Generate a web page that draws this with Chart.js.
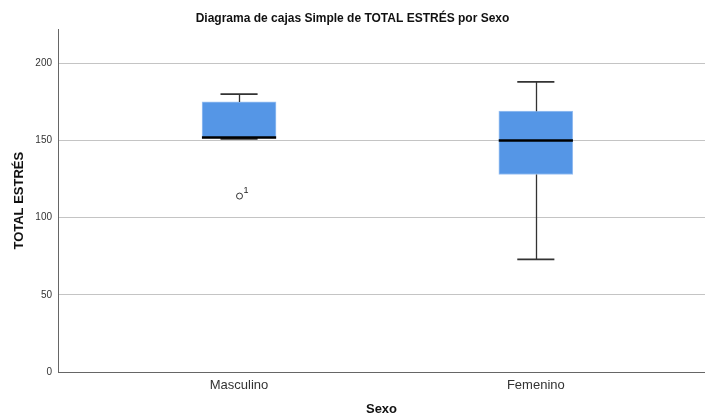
<!DOCTYPE html>
<html>
<head>
<meta charset="utf-8">
<script src="https://cdn.jsdelivr.net/npm/chart.js@4"></script>
<style>
  html, body { margin: 0; padding: 0; background: #fff; }
  #wrap { width: 705px; height: 417px; position: relative; }
</style>
</head>
<body>
<div id="wrap"><canvas id="chart1"></canvas></div>
<script>
// Data
const categories = ["Masculino", "Femenino"];
const positions = [1, 2];
const whiskerLow = [151, 73];
const boxQ1 = [151.5, 128];
const medians = [152, 150];
const boxQ3 = [175, 169];
const whiskerHigh = [180, 188];
const outlierValues = [[114], []];
const outlierLabels = [["1"], []];
const yTicks = [0, 50, 100, 150, 200];

const FONT = "'Liberation Sans', Arial, sans-serif";

// whiskers, caps, medians and outliers, drawn through the chart scales
const boxWhiskers = {
    id: "boxWhiskers",
    afterDatasetsDraw(chart) {
        const ctx = chart.ctx;
        const xs = chart.scales.x;
        const ys = chart.scales.y;
        ctx.save();
        positions.forEach(function (pos, i) {
            const cx = Math.round(xs.getPixelForValue(pos)) + 0.5;
            const capL = xs.getPixelForValue(pos - 0.0625);
            const capR = xs.getPixelForValue(pos + 0.0625);
            const boxL = xs.getPixelForValue(pos - 0.125);
            const boxR = xs.getPixelForValue(pos + 0.125);

            ctx.strokeStyle = "#333";
            ctx.lineWidth = 1.3;
            ctx.beginPath();
            ctx.moveTo(cx, ys.getPixelForValue(boxQ3[i]));
            ctx.lineTo(cx, ys.getPixelForValue(whiskerHigh[i]));
            ctx.moveTo(cx, ys.getPixelForValue(boxQ1[i]));
            ctx.lineTo(cx, ys.getPixelForValue(whiskerLow[i]));
            ctx.stroke();

            ctx.lineWidth = 1.8;
            ctx.beginPath();
            ctx.moveTo(capL, ys.getPixelForValue(whiskerHigh[i]));
            ctx.lineTo(capR, ys.getPixelForValue(whiskerHigh[i]));
            ctx.moveTo(capL, ys.getPixelForValue(whiskerLow[i]));
            ctx.lineTo(capR, ys.getPixelForValue(whiskerLow[i]));
            ctx.stroke();

            // median
            ctx.strokeStyle = "#000";
            ctx.lineWidth = 2.5;
            ctx.beginPath();
            ctx.moveTo(boxL, ys.getPixelForValue(medians[i]));
            ctx.lineTo(boxR, ys.getPixelForValue(medians[i]));
            ctx.stroke();

            // outliers
            outlierValues[i].forEach(function (v, k) {
                const py = ys.getPixelForValue(v);
                ctx.beginPath();
                ctx.arc(cx, py, 3, 0, Math.PI * 2);
                ctx.fillStyle = "#fff";
                ctx.fill();
                ctx.strokeStyle = "#333";
                ctx.lineWidth = 1;
                ctx.stroke();
                ctx.fillStyle = "#222";
                ctx.font = "9px " + FONT;
                ctx.textAlign = "left";
                ctx.textBaseline = "alphabetic";
                ctx.fillText(outlierLabels[i][k], cx + 4, py - 3);
            });
        });
        ctx.restore();
    }
};

const ctx1 = document.getElementById("chart1").getContext("2d");

new Chart(ctx1, {
    type: "bar",
    data: {
        datasets: [
            {
                data: positions.map(function (p, i) {
                    return { x: p, y: [boxQ1[i], boxQ3[i]] };
                }),
                backgroundColor: "#5596e6",
                borderColor: "#9cc2f2",
                borderWidth: 1,
                borderSkipped: false,
                barThickness: 74,
            },
        ],
    },
    options: {
        responsive: true,
        maintainAspectRatio: false,
        animation: false,
        layout: { padding: { left: 0, right: 0, top: 0, bottom: 0 } },
        plugins: {
            legend: { display: false },
            tooltip: { enabled: false },
            title: {
                display: true,
                text: "Diagrama de cajas Simple de TOTAL ESTRÉS por Sexo",
                color: "#111",
                font: { family: FONT, size: 12, weight: "bold" },
                padding: { top: 11, bottom: 4 },
            },
        },
        scales: {
            x: {
                type: "linear",
                offset: false,
                min: 0.39,
                max: 2.57,
                afterBuildTicks: function (scale) {
                    scale.ticks = positions.map(function (p) { return { value: p }; });
                },
                afterFit: function (scale) { scale.height = 45; },
                grid: { display: false, drawTicks: false },
                border: { display: true, color: "#666", width: 1 },
                ticks: {
                    color: "#333",
                    padding: 6,
                    font: { family: FONT, size: 13 },
                    callback: function (value) {
                        const idx = positions.indexOf(value);
                        return idx >= 0 ? categories[idx] : "";
                    },
                },
                title: {
                    display: true,
                    text: "Sexo",
                    color: "#111",
                    font: { family: FONT, size: 13, weight: "bold" },
                    padding: { top: 10, bottom: 0 },
                },
            },
            y: {
                min: 0,
                max: 222,
                afterBuildTicks: function (scale) {
                    scale.ticks = yTicks.map(function (v) { return { value: v }; });
                },
                afterFit: function (scale) { scale.width = 58; },
                grid: {
                    drawTicks: false,
                    color: function (c) {
                        return c.tick && c.tick.value === 0 ? "rgba(0,0,0,0)" : "#c4c4c4";
                    },
                },
                border: { display: true, color: "#666", width: 1 },
                ticks: {
                    color: "#333",
                    padding: 6,
                    font: { family: FONT, size: 10 },
                },
                title: {
                    display: true,
                    text: "TOTAL ESTRÉS",
                    color: "#111",
                    font: { family: FONT, size: 13, weight: "bold" },
                    padding: { top: 12, bottom: 6 },
                },
            },
        },
    },
    plugins: [boxWhiskers],
});
</script>
</body>
</html>
